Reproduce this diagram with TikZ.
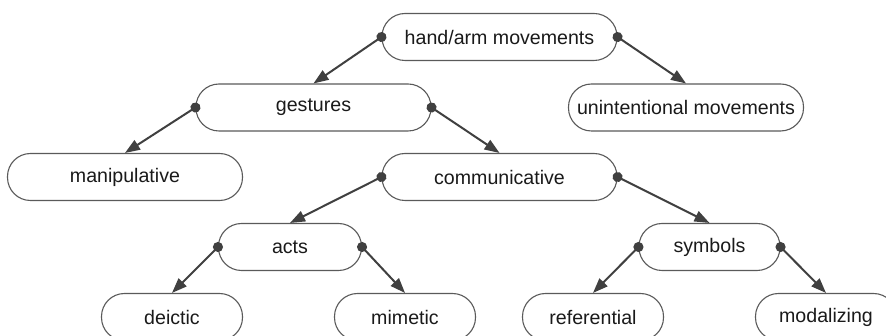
\documentclass[tikz,border=0pt]{standalone}
\usepackage{fontspec}
\setmainfont{Liberation Sans}
\usetikzlibrary{arrows.meta}
\definecolor{boxline}{HTML}{5A5A5A}
\definecolor{linkcol}{HTML}{404040}
\definecolor{labelcol}{HTML}{1A1A1A}
\begin{document}
\begin{tikzpicture}[x=1pt,y=-1pt,
  box/.style={draw=boxline, line width=1.1pt, fill=white, rounded corners=23pt,
    minimum height=47pt, inner sep=0pt, text=labelcol,
    font=\fontsize{19.6}{22}\selectfont},
  wide/.style={box, minimum width=235pt},
  narrow/.style={box, minimum width=141pt},
  link/.style={draw=linkcol, line width=2pt, shorten <=-5pt,
    {Circle[length=10pt,fill=linkcol]}-{Triangle[length=15pt,width=11pt,fill=linkcol]}}
]
\useasboundingbox (0,0) rectangle (886,336);
\clip (0,0) rectangle (886,336);
\fill[white] (0,0) rectangle (886,336);

% tree of nodes
\node[wide]   (hand)  at (499.5,37)  {hand/arm movements};
\node[wide]   (gest)  at (313.5,107.5) {gestures};
\node[wide]   (unint) at (686,107.5) {unintentional movements};
\node[wide]   (manip) at (125,177)   {manipulative};
\node[wide]   (comm)  at (499.5,177) {communicative};
\node[narrow, minimum width=143pt] (acts) at (290,247) {acts};
\node[narrow] (symb)  at (709.5,247) {symbols};
\node[narrow] (deic)  at (172,317)   {deictic};
\node[narrow] (mim)   at (405,317)   {mimetic};
\node[narrow] (ref)   at (593,317)   {referential};
\node[narrow] (mod)   at (826,317)   {modalizing};

% connectors from parent ends to child tops
\draw[link] (hand.west) -- (gest.north);
\draw[link] (hand.east) -- (unint.north);
\draw[link] (gest.west) -- (manip.north);
\draw[link] (gest.east) -- (comm.north);
\draw[link] (comm.west) -- (acts.north);
\draw[link] (comm.east) -- (symb.north);
\draw[link] (acts.west) -- (deic.north);
\draw[link] (acts.east) -- (mim.north);
\draw[link] (symb.west) -- (ref.north);
\draw[link] (symb.east) -- (mod.north);
\end{tikzpicture}
\end{document}
